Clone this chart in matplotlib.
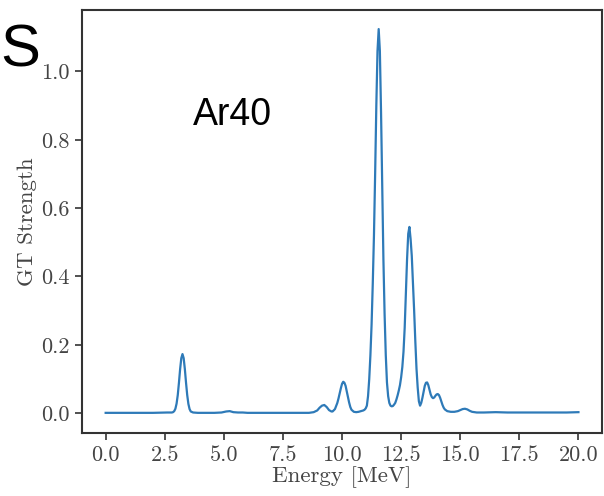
import matplotlib
matplotlib.use("Agg")
import matplotlib.pyplot as plt

plt.rcParams.update({
    "font.family": "serif",
    "font.serif": ["cmr10"],
    "mathtext.fontset": "cm",
    "axes.formatter.use_mathtext": True,
})

# Broadened Gamow-Teller strength distribution for Ar40
energy = [
    0.0, 1.0, 2.0, 2.6, 2.8, 2.85, 2.9, 2.95, 3.0, 3.05, 3.1, 3.15, 3.2, 3.25,
    3.3, 3.35, 3.4, 3.45, 3.5, 3.55, 3.6, 3.7, 3.9, 4.0, 4.6, 4.9, 5.1, 5.25,
    5.4, 5.6, 5.8, 6.0, 7.0, 8.0, 8.6, 8.8, 8.95, 9.05, 9.15, 9.25, 9.35, 9.45,
    9.55, 9.6, 9.7, 9.8, 9.85, 9.9, 9.95, 10.0, 10.05, 10.1, 10.15, 10.2, 10.25,
    10.3, 10.35, 10.4, 10.5, 10.6, 10.7, 10.8, 10.9, 10.95, 11.0, 11.05, 11.1,
    11.15, 11.2, 11.25, 11.3, 11.35, 11.4, 11.45, 11.5, 11.55, 11.6, 11.65,
    11.7, 11.75, 11.8, 11.85, 11.9, 11.95, 12.0, 12.05, 12.1, 12.15, 12.2,
    12.25, 12.3, 12.35, 12.4, 12.45, 12.5, 12.55, 12.6, 12.65, 12.7, 12.75,
    12.8, 12.85, 12.9, 12.95, 13.0, 13.05, 13.1, 13.15, 13.2, 13.25, 13.3,
    13.35, 13.4, 13.45, 13.5, 13.55, 13.6, 13.65, 13.7, 13.75, 13.8, 13.85,
    13.9, 13.95, 14.0, 14.05, 14.1, 14.15, 14.2, 14.25, 14.3, 14.35, 14.45,
    14.6, 14.75, 14.9, 15.0, 15.1, 15.2, 15.3, 15.4, 15.5, 15.7, 16.0, 16.5,
    17.0, 17.5, 18.0, 18.5, 19.0, 19.5, 20.0,
]
strength = [
    0.001, 0.001, 0.001, 0.002, 0.002, 0.003, 0.006, 0.013, 0.028, 0.053,
    0.089, 0.129, 0.161, 0.173, 0.161, 0.129, 0.089, 0.053, 0.027, 0.012,
    0.005, 0.002, 0.001, 0.001, 0.001, 0.002, 0.005, 0.006, 0.003, 0.002,
    0.002, 0.001, 0.001, 0.001, 0.001, 0.003, 0.008, 0.016, 0.022, 0.024,
    0.018, 0.009, 0.005, 0.005, 0.012, 0.030, 0.043, 0.058, 0.073, 0.086,
    0.092, 0.089, 0.080, 0.064, 0.048, 0.031, 0.018, 0.010, 0.004, 0.003,
    0.004, 0.006, 0.008, 0.010, 0.014, 0.022, 0.050, 0.100, 0.170, 0.260,
    0.380, 0.520, 0.700, 0.900, 1.060, 1.124, 1.060, 0.880, 0.660, 0.450,
    0.290, 0.170, 0.090, 0.050, 0.030, 0.022, 0.020, 0.021, 0.025, 0.030,
    0.040, 0.052, 0.066, 0.082, 0.105, 0.135, 0.180, 0.250, 0.350, 0.450,
    0.525, 0.545, 0.510, 0.460, 0.380, 0.300, 0.210, 0.130, 0.075, 0.035,
    0.022, 0.030, 0.045, 0.063, 0.080, 0.089, 0.090, 0.082, 0.068, 0.055,
    0.047, 0.044, 0.046, 0.051, 0.055, 0.056, 0.053, 0.045, 0.034, 0.024,
    0.016, 0.011, 0.006, 0.004, 0.004, 0.006, 0.009, 0.012, 0.013, 0.011,
    0.007, 0.004, 0.002, 0.002, 0.003, 0.002, 0.002, 0.002, 0.002, 0.002,
    0.002, 0.003,
]
x_ticks = [0.0, 2.5, 5.0, 7.5, 10.0, 12.5, 15.0, 17.5, 20.0]
y_ticks = [0.0, 0.2, 0.4, 0.6, 0.8, 1.0]

fig = plt.figure(figsize=(6.04, 4.96), dpi=100)
ax = fig.add_axes([0.1358, 0.127, 0.861, 0.853])

ax.plot(energy, strength, color="#2e7ab8", lw=1.6)
ax.set_xlim(-1.0, 21.0)
ax.set_ylim(-0.058, 1.18)
ax.set_xticks(x_ticks)
ax.set_yticks(y_ticks)
ax.set_xticklabels([f"{t:.1f}" for t in x_ticks])
ax.set_yticklabels([f"{t:.1f}" for t in y_ticks])

ax.set_xlabel("Energy [MeV]", fontsize=16.5, color="#444444", labelpad=1)
ax.set_ylabel("GT Strength", fontsize=16.5, color="#444444", labelpad=3)
ax.tick_params(axis="both", labelsize=16, labelcolor="#444444",
               length=5, width=1.2, color="#333333", pad=4)
for sp in ax.spines.values():
    sp.set_linewidth(1.5)
    sp.set_color("#333333")

fig.text(193 / 604, 1 - 125 / 496, "Ar40", family="Liberation Sans",
         fontsize=27, ha="left", va="baseline", color="black")
fig.text(0.0, 1 - 67 / 496, "S", family="Liberation Sans",
         fontsize=43, ha="left", va="baseline", color="black")

fig.savefig("out.png", dpi=100)
